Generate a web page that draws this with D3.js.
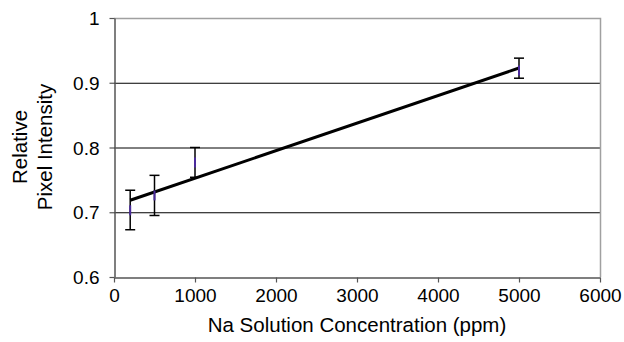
<!DOCTYPE html>
<html>
<head>
<meta charset="utf-8">
<script src="https://cdn.jsdelivr.net/npm/d3@7"></script>
<style>
  body { margin: 0; background: #fff; }
  text { font-family: "Liberation Sans", Arial, sans-serif; fill: #000; }
</style>
</head>
<body>
<div id="chart"></div>
<script>
var conc = [200, 500, 1000, 5000];
var intensity = [0.703, 0.726, 0.777, 0.919];
var errLow = [0.673, 0.695, 0.754, 0.907];
var errHigh = [0.734, 0.757, 0.800, 0.938];
var xTicks = [0, 1000, 2000, 3000, 4000, 5000, 6000];
var yTicks = [0.6, 0.7, 0.8, 0.9, 1];

var width = 624, height = 342;
var margin = {left: 114, right: 24, top: 18, bottom: 65};

var x = d3.scaleLinear().domain([0, 6000]).range([margin.left, width - margin.right]);
var y = d3.scaleLinear().domain([0.6, 1]).range([height - margin.bottom, margin.top]);

var svg = d3.select("#chart").append("svg").attr("width", width).attr("height", height);

// gridlines
svg.append("g").selectAll("line").data([0.7, 0.8, 0.9]).enter().append("line")
    .attr("x1", x(0)).attr("x2", x(6000))
    .attr("y1", function(d) { return y(d) + 0.5; }).attr("y2", function(d) { return y(d) + 0.5; })
    .attr("stroke", "#000").attr("stroke-width", 1);

// plot border top/right
svg.append("path")
    .attr("d", "M" + x(0) + "," + (y(1) + 0.5) + "H" + (x(6000) + 0.5) + "V" + y(0.6))
    .attr("fill", "none").attr("stroke", "#a0a0a0").attr("stroke-width", 1.5);

// axes
var yAxis = d3.axisLeft(y).tickValues(yTicks).tickSize(5).tickSizeOuter(0)
    .tickFormat(function(d) { return d === 1 ? "1" : d3.format(".1f")(d); });
var gy = svg.append("g").attr("transform", "translate(" + (x(0) + 0.5) + ",0)").call(yAxis);

var xAxis = d3.axisBottom(x).tickValues(xTicks).tickSize(5).tickSizeOuter(0).tickFormat(d3.format("d"));
var gx = svg.append("g").attr("transform", "translate(0," + (y(0.6) + 0.5) + ")").call(xAxis);

[gx, gy].forEach(function(g) {
  g.select(".domain").attr("stroke", "#555").attr("stroke-width", 1.5);
  g.selectAll(".tick line").attr("stroke", "#555").attr("stroke-width", 1.2);
  g.selectAll(".tick text").attr("font-size", 19).attr("font-family", "Liberation Sans, Arial, sans-serif").attr("fill", "#000");
});
gy.selectAll(".tick text").attr("x", -15).attr("dy", "0.35em");
gx.selectAll(".tick text").attr("y", 11).attr("dy", "0.71em");

// trend line (least squares)
var mx = d3.mean(conc), my = d3.mean(intensity);
var sxy = d3.sum(conc, function(c, i) { return (c - mx) * (intensity[i] - my); });
var sxx = d3.sum(conc, function(c) { return (c - mx) * (c - mx); });
var slope = sxy / sxx, icpt = my - slope * mx;
var ends = [d3.min(conc), d3.max(conc)];
svg.append("line")
    .attr("x1", x(ends[0])).attr("y1", y(icpt + slope * ends[0]))
    .attr("x2", x(ends[1])).attr("y2", y(icpt + slope * ends[1]))
    .attr("stroke", "#000").attr("stroke-width", 3);

// error bars
var eb = svg.append("g").selectAll("g").data(conc).enter().append("g");
eb.append("line")
    .attr("x1", function(d) { return x(d); }).attr("x2", function(d) { return x(d); })
    .attr("y1", function(d, i) { return y(errLow[i]); }).attr("y2", function(d, i) { return y(errHigh[i]); })
    .attr("stroke", "#000").attr("stroke-width", 1.5);
[errLow, errHigh].forEach(function(arr) {
  eb.append("line")
      .attr("x1", function(d) { return x(d) - 5; }).attr("x2", function(d) { return x(d) + 5; })
      .attr("y1", function(d, i) { return y(arr[i]); }).attr("y2", function(d, i) { return y(arr[i]); })
      .attr("stroke", "#000").attr("stroke-width", 1.5);
});
// markers
eb.append("line")
    .attr("x1", function(d) { return x(d); }).attr("x2", function(d) { return x(d); })
    .attr("y1", function(d, i) { return y(intensity[i]) - 5; }).attr("y2", function(d, i) { return y(intensity[i]) + 5; })
    .attr("stroke", "#4a2a9c").attr("stroke-width", 2);

// titles
svg.append("text").attr("x", (x(0) + x(6000)) / 2).attr("y", 332)
    .attr("text-anchor", "middle").attr("font-size", 20.5)
    .text("Na Solution Concentration (ppm)");

var yt = svg.append("text").attr("transform", "translate(27,147) rotate(-90)")
    .attr("text-anchor", "middle").attr("font-size", 20.5);
yt.append("tspan").attr("x", 0).attr("y", 0).text("Relative");
yt.append("tspan").attr("x", 0).attr("y", 25).text("Pixel Intensity");
</script>
</body>
</html>
